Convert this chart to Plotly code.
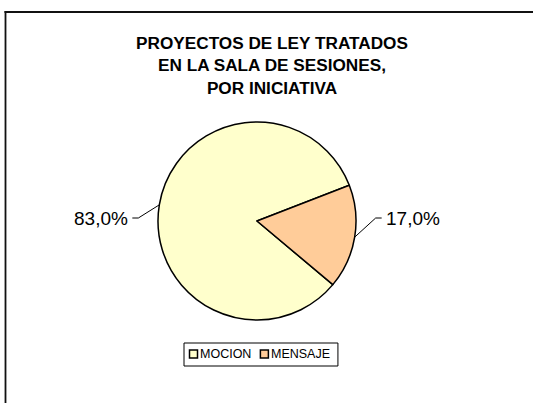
import math
import plotly.graph_objects as go

labels = ["MOCION", "MENSAJE"]
values = [83.0, 17.0]
colors = ["#FFFFCC", "#FFCC99"]
title_lines = ["PROYECTOS DE LEY TRATADOS", "EN LA SALA DE SESIONES,", "POR INICIATIVA"]

W, H = 533, 403
CX, CY, R = 257, 221, 99
ROT = 130
FONT = "Arial, 'Liberation Sans', sans-serif"

# approximate Arial advance widths (em) for legend layout
CHAR_W = {"M": .833, "O": .778, "C": .722, "I": .278, "N": .722, "E": .667,
          "S": .667, "A": .667, "J": .5}


def px(x):
    return x / W


def py(y):
    return 1 - y / H


fig = go.Figure(go.Pie(
    labels=labels, values=values, sort=False, direction="clockwise", rotation=ROT,
    marker=dict(colors=colors, line=dict(color="black", width=1.5)),
    textinfo="none", hoverinfo="label+percent", showlegend=False,
    domain=dict(x=[px(CX - R), px(CX + R)], y=[py(CY + R), py(CY - R)]),
))

shapes = [
    dict(type="line", xref="paper", yref="paper", x0=px(4.5), x1=1, y0=py(12), y1=py(12),
         line=dict(color="#111", width=1.8)),
    dict(type="line", xref="paper", yref="paper", x0=px(5.5), x1=px(5.5), y0=py(11), y1=0,
         line=dict(color="#111", width=1.8)),
]
annotations = []

# data labels with leader lines
total = sum(values)
ang = ROT
LABEL_Y = CY - 3
for lab, v in zip(labels, values):
    span = 360 * v / total
    mid = math.radians(ang + span / 2)
    ang += span
    ex, ey = CX + R * math.sin(mid), CY - R * math.cos(mid)
    side = 1 if math.sin(mid) > 0 else -1
    elbow_x = ex + side * 21
    end_x = elbow_x + side * 6
    shapes.append(dict(type="path", xref="paper", yref="paper",
                       path=f"M {px(ex)},{py(ey)} L {px(elbow_x)},{py(LABEL_Y)} L {px(end_x)},{py(LABEL_Y)}",
                       line=dict(color="black", width=1)))
    annotations.append(dict(x=px(end_x + side * 3.5), y=py(LABEL_Y), xref="paper", yref="paper",
                            text=f"{100 * v / total:.1f}%".replace(".", ","), showarrow=False,
                            xanchor="left" if side > 0 else "right", yanchor="middle", borderpad=0,
                            font=dict(family=FONT, size=19, color="black")))

# compact legend (box + colour squares + labels)
LEG_FS = 12.5
LEG_L, LEG_T, LEG_B = 184, 343, 366
LEG_YC = (LEG_T + LEG_B) / 2 - 0.5
SQ = 8
x = LEG_L + 5.5
for lab, col in zip(labels, colors):
    shapes.append(dict(type="rect", xref="paper", yref="paper",
                       x0=px(x), x1=px(x + SQ), y0=py(LEG_YC - SQ / 2), y1=py(LEG_YC + SQ / 2),
                       fillcolor=col, line=dict(color="black", width=1.5)))
    tx = x + SQ + 1.5
    annotations.append(dict(x=px(tx), y=py(LEG_YC), xref="paper", yref="paper", text=lab,
                            showarrow=False, xanchor="left", yanchor="middle", borderpad=0,
                            font=dict(family=FONT, size=LEG_FS, color="black")))
    tw = sum(CHAR_W.get(c, .667) for c in lab) * LEG_FS
    x = tx + tw + 10
LEG_R = x - 10 + 9
shapes.insert(2, dict(type="rect", xref="paper", yref="paper", x0=px(LEG_L), x1=px(LEG_R),
                      y0=py(LEG_B), y1=py(LEG_T), fillcolor="white", line=dict(color="black", width=1),
                      layer="below"))

fig.update_layout(
    width=W, height=H, margin=dict(l=0, r=0, t=0, b=0),
    paper_bgcolor="white", plot_bgcolor="white",
    separators=",.", showlegend=False,
    title=dict(text="<br>".join(title_lines), x=px(272), xanchor="center", y=py(49), yanchor="top",
               font=dict(family=FONT, size=17.2, color="black", weight="bold")),
    shapes=shapes, annotations=annotations,
)

fig.write_html("out.html", config={"displayModeBar": False},
               post_script="document.body.style.margin='0';document.body.style.overflow='hidden';")
